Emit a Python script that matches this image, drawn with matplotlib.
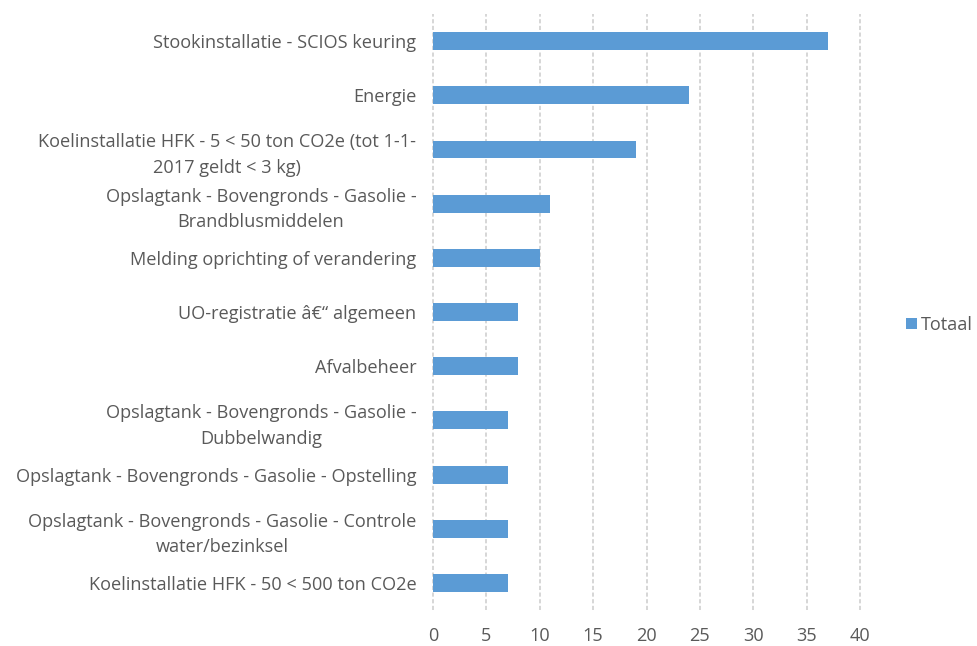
import matplotlib
matplotlib.use("Agg")
import matplotlib.pyplot as plt

# categories from top to bottom, as in the chart
categories = [
    "Stookinstallatie - SCIOS keuring",
    "Energie",
    "Koelinstallatie HFK - 5 < 50 ton CO2e (tot 1-1-\n2017 geldt < 3 kg)",
    "Opslagtank - Bovengronds - Gasolie -\nBrandblusmiddelen",
    "Melding oprichting of verandering",
    "UO-registratie â€“ algemeen",
    "Afvalbeheer",
    "Opslagtank - Bovengronds - Gasolie -\nDubbelwandig",
    "Opslagtank - Bovengronds - Gasolie - Opstelling",
    "Opslagtank - Bovengronds - Gasolie - Controle\nwater/bezinksel",
    "Koelinstallatie HFK - 50 < 500 ton CO2e",
]
totaal = [37, 24, 19, 11, 10, 8, 8, 7, 7, 7, 7]
x_ticks = [0, 5, 10, 15, 20, 25, 30, 35, 40]

text_color = "#595959"
bar_color = "#5B9BD5"
grid_color = "#D0D0D0"
fsize = 13.1

plt.rcParams["font.family"] = ["Open Sans", "DejaVu Sans"]

fig = plt.figure(figsize=(9.77, 6.46), dpi=100)
ax = fig.add_axes([0.4432, 0.0557, 0.4371, 0.9226])

ypos = list(range(len(categories)))
ax.barh(ypos, totaal, height=0.33, color=bar_color, label="Totaal", zorder=3)

ax.set_ylim(len(categories) - 0.5, -0.5)
ax.set_xlim(0, 40)
ax.set_yticks(ypos)
ax.set_yticklabels(categories, fontsize=fsize, color=text_color)
for lab in ax.get_yticklabels():
    lab.set_multialignment("center")
    lab.set_linespacing(1.55)
ax.set_xticks(x_ticks)
ax.set_xticklabels([str(t) for t in x_ticks], fontsize=fsize, color=text_color)
ax.tick_params(axis="both", length=0)
ax.tick_params(axis="y", pad=12)
ax.tick_params(axis="x", pad=12)

ax.grid(axis="x", color=grid_color, linestyle=(0, (2.5, 1.5)), linewidth=1.2, zorder=0)
for gl in ax.xaxis.get_gridlines():
    gl.set_clip_on(False)
for side in ["top", "right", "bottom", "left"]:
    ax.spines[side].set_visible(False)

leg = fig.legend(loc="center left", bbox_to_anchor=(0.927, 0.497), frameon=False,
                 fontsize=fsize, handlelength=0.6, handleheight=0.6, handletextpad=0.25,
                 borderpad=0, borderaxespad=0)
for t in leg.get_texts():
    t.set_color(text_color)

fig.savefig("out.png", dpi=100)
